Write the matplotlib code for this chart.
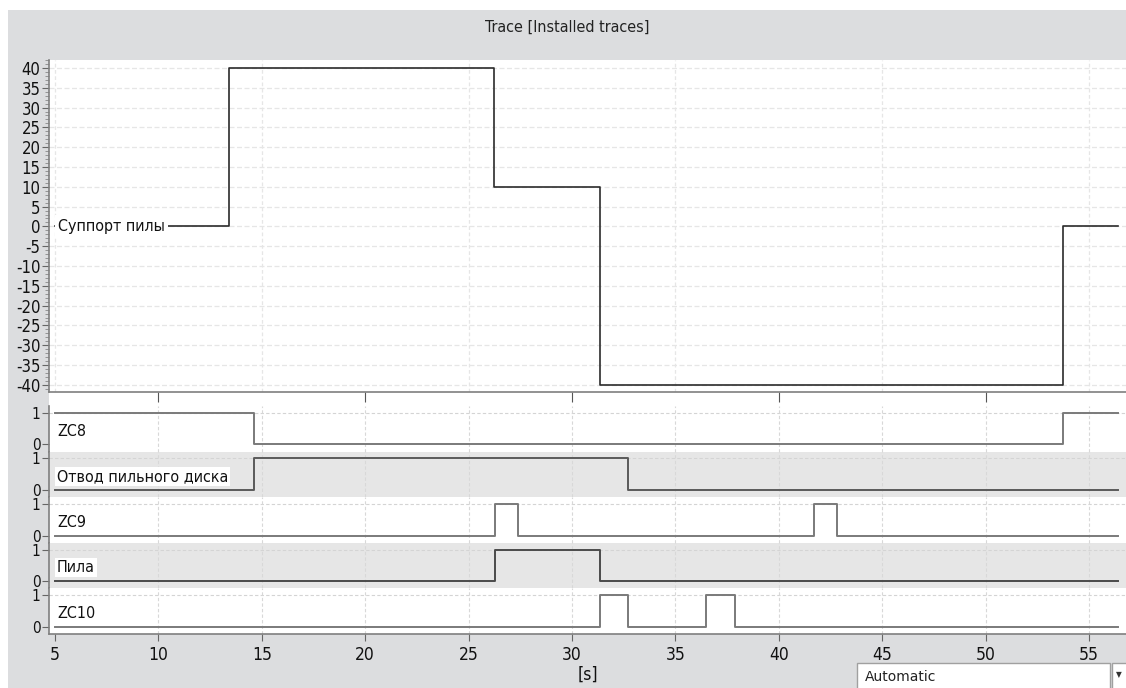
import matplotlib
matplotlib.use('Agg')
import matplotlib.pyplot as plt
from matplotlib.patches import Rectangle
from matplotlib.ticker import MultipleLocator

W, H = 1126, 688
plt.rcParams['font.family'] = ['Liberation Sans Narrow', 'DejaVu Sans']
plt.rcParams['font.stretch'] = 'condensed'

# analog trace "Суппорт пилы" (step changes, seconds / value)
analog_t = [5.0, 13.41, 26.23, 31.35, 53.74, 56.4]
analog_v = [0, 40, 10, -40, 0, 0]

# digital traces: switch times and levels after each switch
t_end = 56.4
zc8_t = [5.0, 14.62, 53.74]
zc8_v = [1, 0, 1]
otvod_t = [5.0, 14.62, 32.71]
otvod_v = [0, 1, 0]
zc9_t = [5.0, 26.26, 27.40, 41.69, 42.83]
zc9_v = [0, 1, 0, 1, 0]
pila_t = [5.0, 26.26, 31.37]
pila_v = [0, 1, 0]
zc10_t = [5.0, 31.37, 32.71, 36.46, 37.86]
zc10_v = [0, 1, 0, 1, 0]

tracks = [
    ('ZC8', zc8_t, zc8_v, False, '#7a7a7a'),
    ('Отвод пильного диска', otvod_t, otvod_v, True, '#5a5a5a'),
    ('ZC9', zc9_t, zc9_v, False, '#7a7a7a'),
    ('Пила', pila_t, pila_v, True, '#4a4a4a'),
    ('ZC10', zc10_t, zc10_v, False, '#7a7a7a'),
]

x_ticks = [5, 10, 15, 20, 25, 30, 35, 40, 45, 50, 55]
y_ticks = list(range(-40, 41, 5))


def box(x0, y0, x1, y1):
    return [x0 / W, 1 - y1 / H, (x1 - x0) / W, (y1 - y0) / H]


def stairs(ts, vs):
    return ts + [t_end], vs + [vs[-1]]


fig = plt.figure(figsize=(W / 100, H / 100), dpi=100)
fig.patch.set_facecolor('white')

# backgrounds (own axes, drawn below the traces)
bg = fig.add_axes([0, 0, 1, 1], zorder=-5)
bg.set_xlim(0, W)
bg.set_ylim(H, 0)
bg.axis('off')
bg.add_patch(Rectangle((8, 10), W - 8, H - 10, facecolor='#dcdddf', edgecolor='none'))
bg.add_patch(Rectangle((49, 60), W - 49, 634 - 60, facecolor='white', edgecolor='none'))
bg.text(567, 27, 'Trace [Installed traces]', ha='center', va='center',
        fontsize=11.5, color='#222222')
# "Automatic" combobox
bg.add_patch(Rectangle((857, 663), 1110 - 857, 30, facecolor='white',
                       edgecolor='#a0a0a0', lw=1))
bg.add_patch(Rectangle((1112, 663), 20, 30, facecolor='white',
                       edgecolor='#a0a0a0', lw=1))
bg.text(865, 677, 'Automatic', fontsize=10, va='center', ha='left',
        family=['DejaVu Sans'], stretch='normal', color='#222222')
bg.text(1119, 675, '▼', fontsize=6, va='center', ha='center',
        family=['DejaVu Sans'], color='#333333')

xlim = (4.71, 56.79)
spine_c = '#7f7f7f'
grid_c = '#e6e6e6'
fs = 11.5

# analog trace
ax = fig.add_axes(box(49, 60, 1126, 392), zorder=2)
ax.set_facecolor('white')
ax.set_xlim(*xlim)
ax.set_ylim(-41.8, 42.0)
ax.step(analog_t, analog_v, where='post', color='#2b2b2b', lw=1.2, zorder=3)
ax.yaxis.set_minor_locator(MultipleLocator(1))
ax.set_yticks(y_ticks)
ax.set_yticklabels([str(v) if v >= 0 else '-' + str(-v) for v in y_ticks])
ax.set_xticks([10, 20, 30, 40, 50])
ax.set_xticks(x_ticks, minor=True)
ax.tick_params(axis='x', which='major', labelbottom=False, length=7, color='#555555')
ax.tick_params(axis='x', which='minor', length=0)
ax.tick_params(axis='y', which='major', labelsize=12, length=5, pad=1, color='#666666',
               labelcolor='#111111')
ax.tick_params(axis='y', which='minor', length=3, color='#888888')
ax.grid(True, axis='y', which='major', color=grid_c, lw=0.9, ls=(0, (4, 2)))
ax.grid(True, axis='x', which='minor', color=grid_c, lw=0.9, ls=(0, (3, 2)))
for s in ['top', 'right']:
    ax.spines[s].set_visible(False)
for s in ['left', 'bottom']:
    ax.spines[s].set_color(spine_c)
    ax.spines[s].set_linewidth(1.2)
ax.text(5.15, 0, 'Суппорт пилы', fontsize=fs, va='center', ha='left', color='#111111',
        bbox=dict(facecolor='white', edgecolor='none', pad=2.5), zorder=4)

# digital traces
top = 406
th = 45.6
for i, (name, ts, vs, shaded, col) in enumerate(tracks):
    y0 = top + i * th
    a = fig.add_axes(box(49, y0, 1126, y0 + th), zorder=2)
    a.set_facecolor('#e6e6e6' if shaded else 'white')
    a.set_xlim(*xlim)
    a.set_ylim(-0.23, 1.215)
    xs, ys = stairs(ts, vs)
    a.step(xs, ys, where='post', color=col, lw=1.4, zorder=3)
    a.axhline(1, color='#d4d4d4', lw=0.8, ls=(0, (3, 2)), zorder=1)
    for xt in x_ticks[1:]:
        a.axvline(xt, color='#d8d8d8', lw=0.8, ls=(0, (3, 2)), zorder=1)
    a.set_yticks([0, 1])
    a.set_yticklabels(['0', '1'])
    a.tick_params(axis='y', labelsize=11, length=5, pad=1, color='#666666',
                  labelcolor='#111111')
    a.set_xticks(x_ticks)
    for s in ['top', 'right', 'bottom']:
        a.spines[s].set_visible(False)
    a.spines['left'].set_color(spine_c)
    a.spines['left'].set_linewidth(1.2)
    if i < len(tracks) - 1:
        a.tick_params(axis='x', labelbottom=False, length=0)
    else:
        a.spines['bottom'].set_visible(True)
        a.spines['bottom'].set_color(spine_c)
        a.spines['bottom'].set_linewidth(1.2)
        a.tick_params(axis='x', labelsize=12.5, length=5, pad=4, color='#666666',
                      labelcolor='#111111')
        a.set_xlabel('[s]', fontsize=12.5, labelpad=1, color='#111111')
    a.text(5.1, 0.42, name, fontsize=fs, va='center', ha='left', color='#111111',
           bbox=dict(facecolor='white', edgecolor='none', pad=1.5), zorder=4)

fig.savefig('out.png', dpi=100)
